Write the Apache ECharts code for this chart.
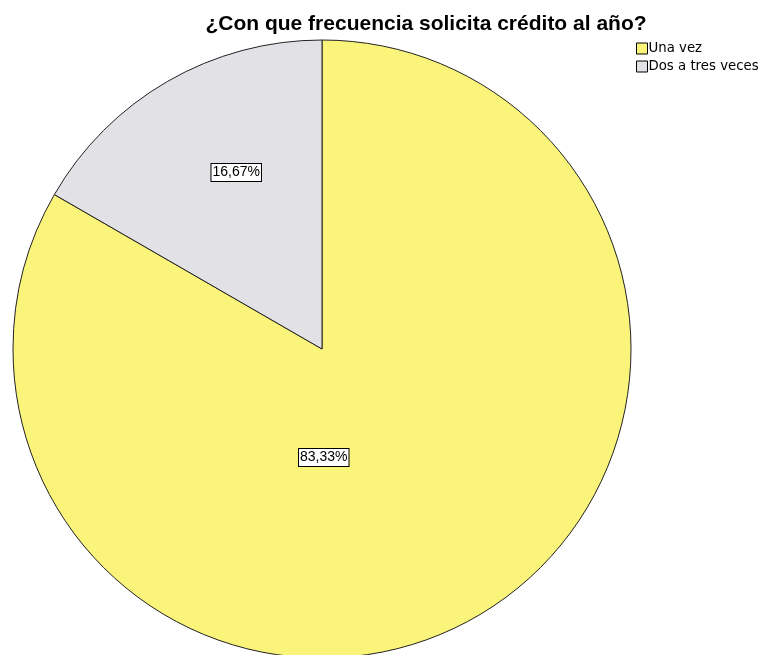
<!DOCTYPE html>
<html>
<head>
<meta charset="utf-8">
<script src="https://cdn.jsdelivr.net/npm/echarts@6/dist/echarts.min.js"></script>
<style>
  html, body { margin: 0; padding: 0; background: #fff; }
  #chart { width: 766px; height: 655px; }
</style>
</head>
<body>
<div id="chart"></div>
<script>
// Frequency of credit requests per year (percent of respondents)
const categories = ['Una vez', 'Dos a tres veces'];
const percentages = [83.33, 16.67];
const sliceColors = ['#fbf47a', '#e2e2e6'];

const chart = echarts.init(document.getElementById('chart'), null, { renderer: 'canvas' });

const pieData = categories.map((name, i) => ({
  name: name,
  value: percentages[i],
  itemStyle: { color: sliceColors[i] }
}));

// Nudge each inside label toward where it sits in the layout
const labelShift = [
  { dx: -77, dy: -28 },
  { dx: -7, dy: -40 }
];

chart.setOption({
  animation: false,
  backgroundColor: '#ffffff',
  title: {
    text: '¿Con que frecuencia solicita crédito al año?',
    left: 421,
    textAlign: 'center',
    top: 9,
    textStyle: {
      fontFamily: 'Liberation Sans, Arial, sans-serif',
      fontWeight: 'bold',
      fontSize: 21,
      color: '#000'
    }
  },
  legend: {
    orient: 'vertical',
    left: 636,
    top: 42,
    padding: 0,
    itemWidth: 11,
    itemHeight: 11,
    itemGap: 5,
    icon: 'rect',
    data: categories,
    itemStyle: { borderColor: '#000', borderWidth: 1 },
    textStyle: {
      fontFamily: 'DejaVu Sans, sans-serif',
      fontSize: 13.3,
      lineHeight: 11,
      color: '#000',
      padding: [0, 0, 0, -4]
    }
  },
  series: [{
    type: 'pie',
    center: [322, 349],
    radius: 309,
    startAngle: 90,
    clockwise: true,
    avoidLabelOverlap: false,
    itemStyle: { borderColor: '#222', borderWidth: 1 },
    emphasis: { disabled: true },
    label: {
      show: true,
      position: 'inside',
      formatter: p => p.value.toFixed(2).replace('.', ',') + '%',
      fontFamily: 'Liberation Sans, Arial, sans-serif',
      fontSize: 14,
      color: '#000',
      backgroundColor: '#fff',
      borderColor: '#000',
      borderWidth: 1,
      padding: [2, 1, 1, 1]
    },
    labelLine: { show: false },
    labelLayout: params => labelShift[params.dataIndex],
    data: pieData
  }]
});
</script>
</body>
</html>
